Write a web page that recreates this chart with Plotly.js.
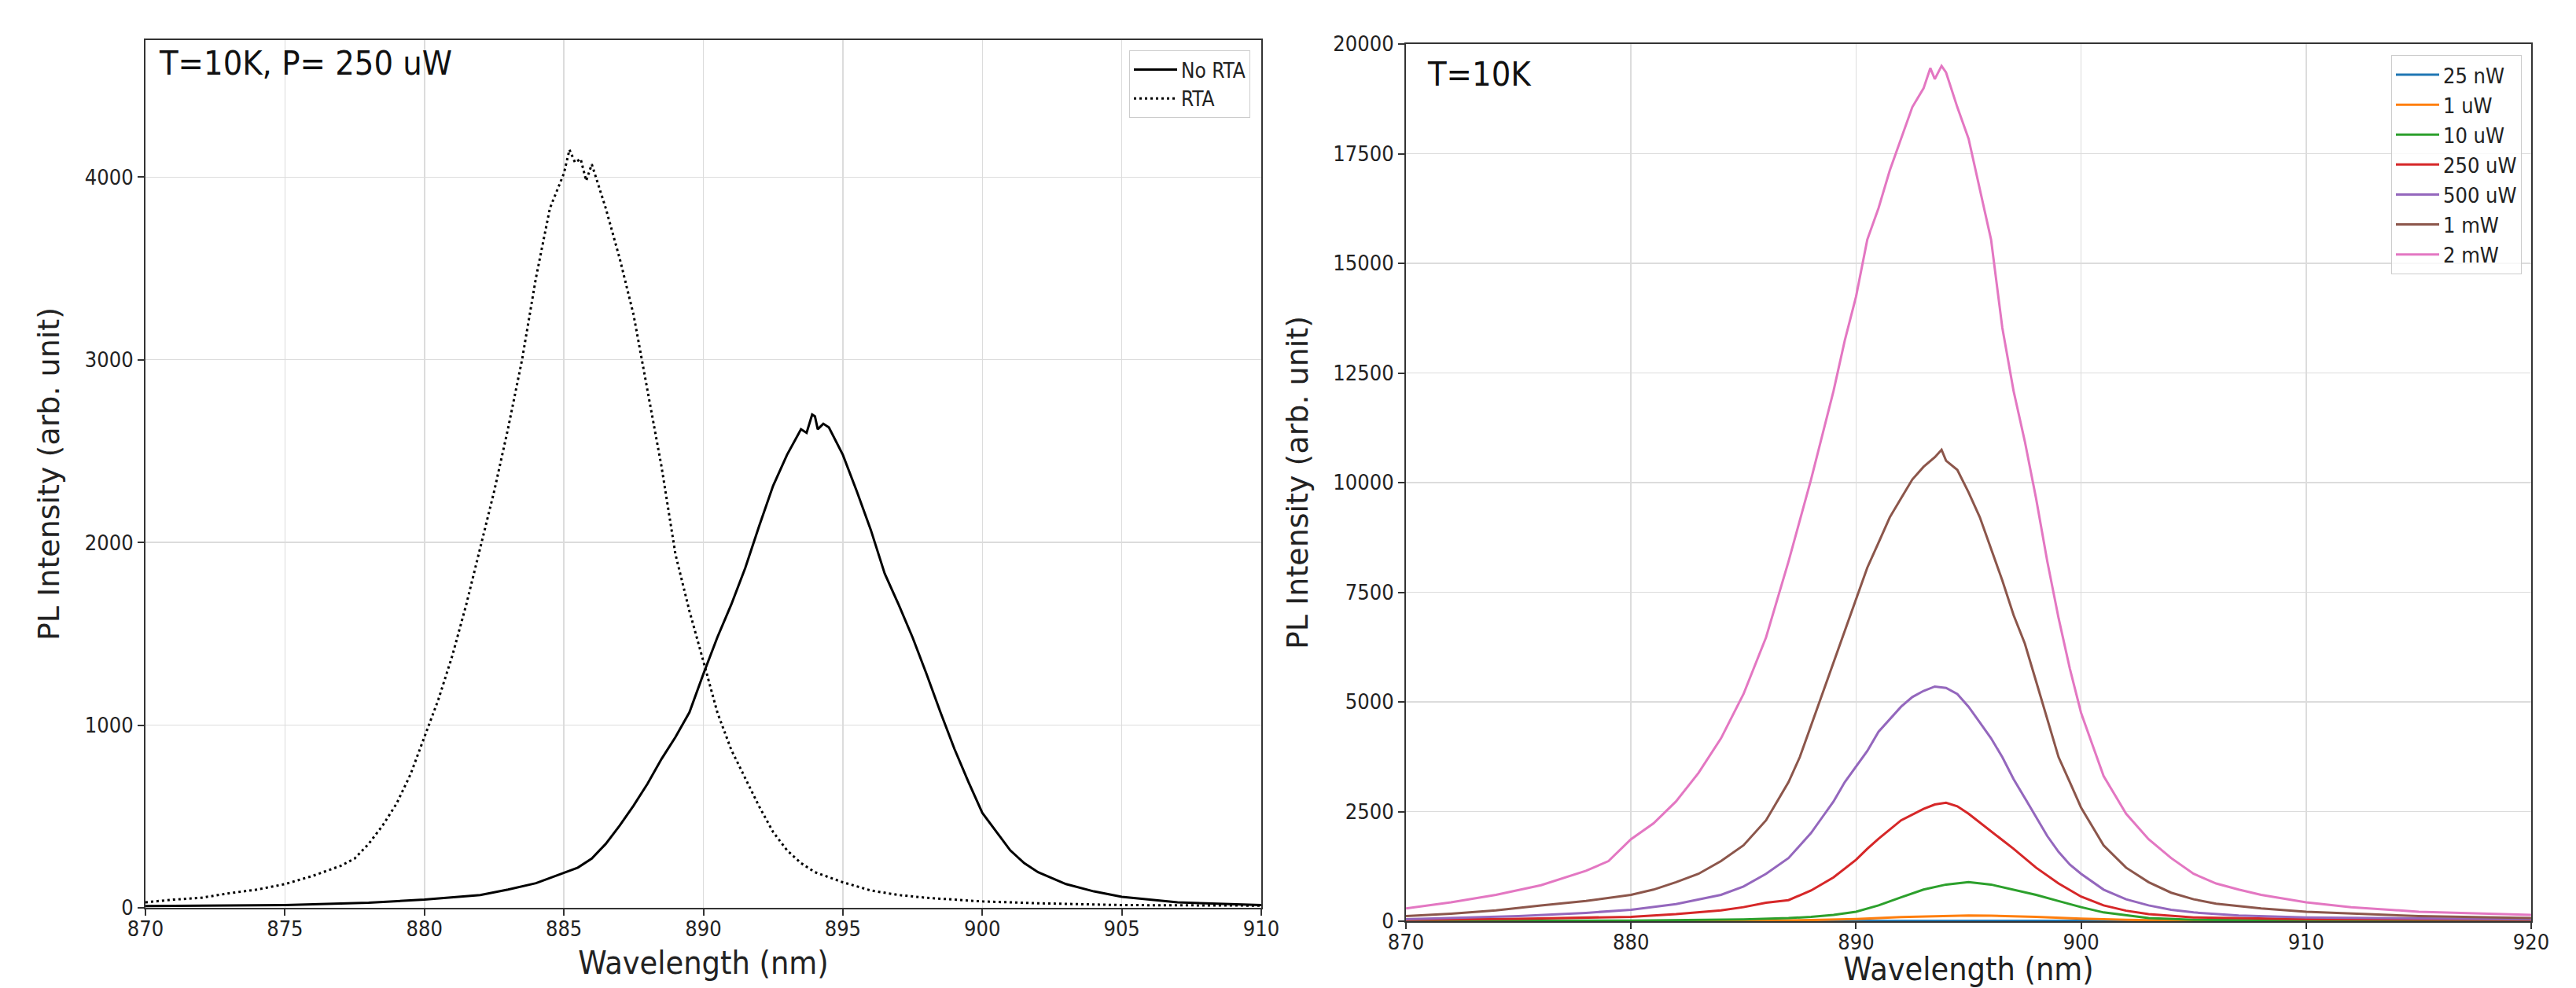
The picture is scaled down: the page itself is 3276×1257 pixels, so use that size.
<!DOCTYPE html>
<html>
<head>
<meta charset="utf-8">
<script src="https://cdn.plot.ly/plotly-3.0.1.min.js"></script>
<style>html,body{margin:0;padding:0;background:#fff;}#chart{width:3276px;height:1257px;}</style>
</head>
<body>
<div id="chart"></div>
<script>
// ---------- Left panel: T=10K, P=250 uW ----------
const wlNoRTA = [870,872,875,878,880,882,883,884,885,885.5,886,886.5,887,887.5,888,888.5,889,889.5,890,890.5,891,891.5,892,892.5,893,893.5,893.7,893.9,894,894.1,894.3,894.5,895,895.5,896,896.5,897,897.5,898,898.5,899,899.5,900,900.5,901,901.5,902,903,904,905,906,907,908,910];
const noRTA   = [10,12,15,28,45,70,100,135,190,220,270,350,450,560,680,815,935,1070,1280,1480,1660,1860,2090,2310,2480,2620,2600,2700,2690,2620,2650,2630,2480,2280,2070,1830,1660,1480,1280,1070,870,690,520,415,315,245,195,130,90,60,45,30,25,15];

const wlRTA = [870,871,872,873,874,875,876,877,877.5,878,878.5,879,879.5,880,880.5,881,881.5,882,882.5,883,883.5,884,884.5,885,885.2,885.4,885.6,885.8,886,886.5,887,887.5,888,888.5,889,889.5,890,890.5,891,891.5,892,892.5,893,893.5,894,895,896,897,898,899,900,902,905,910];
const RTA   = [30,45,55,80,100,130,175,230,270,350,450,570,730,935,1140,1380,1660,1970,2280,2625,3000,3450,3830,4020,4150,4080,4100,3980,4070,3830,3555,3245,2830,2415,1935,1625,1350,1070,865,710,555,415,315,245,195,140,95,70,55,45,35,25,15,12];

// ---------- Right panel: T=10K, power series ----------
const powerLabels = ['25 nW','1 uW','10 uW','250 uW','500 uW','1 mW','2 mW'];
const powerColors = ['#1f77b4','#ff7f0e','#2ca02c','#d62728','#9467bd','#8c564b','#e377c2'];

const wl25nW = [870,885,890,893,895,897,900,905,920];
const p25nW  = [0,3,8,15,18,15,8,3,0];

const wl1uW = [870,880,885,888,890,892,894,895,896,898,900,902,905,910,920];
const p1uW  = [3,5,10,25,50,95,125,130,125,100,60,30,10,5,3];

const wl10uW = [870,880,885,887,888,889,890,891,892,893,894,895,896,897,898,899,900,901,902,903,905,910,920];
const p10uW  = [5,15,40,70,100,145,215,360,545,720,835,890,835,720,600,460,320,200,130,70,30,15,5];

const wl250uW = [870,875,880,882,884,885,886,887,888,889,890,890.5,891,892,893,893.5,894,894.5,895,896,897,898,899,900,901,902,903,905,910,920];
const p250uW  = [30,55,100,160,245,320,420,480,700,1000,1400,1650,1880,2300,2560,2660,2700,2620,2450,2050,1650,1220,860,560,360,240,160,85,45,30];

const wl500uW = [870,875,878,880,882,884,885,886,887,888,888.5,889,889.5,890,890.5,891,891.5,892,892.5,893,893.5,894,894.5,895,895.5,896,896.5,897,897.5,898,898.5,899,899.5,900,901,902,903,904,905,907,910,920];
const p500uW  = [45,115,190,260,390,600,790,1080,1440,2010,2370,2730,3170,3530,3880,4320,4600,4890,5110,5250,5350,5320,5180,4890,4530,4170,3740,3240,2810,2370,1940,1580,1290,1080,720,500,360,260,200,130,85,45];

const wl1mW = [870,872,874,876,878,880,881,882,883,884,885,886,887,887.5,888,888.5,889,889.5,890,890.5,891,891.5,892,892.5,893,893.5,893.8,894,894.5,895,895.5,896,896.5,897,897.5,898,898.5,899,899.5,900,900.5,901,902,903,904,905,906,908,910,915,920];
const p1mW  = [115,170,245,360,460,600,720,890,1080,1370,1730,2300,3170,3740,4460,5180,5900,6620,7340,8060,8630,9210,9640,10070,10360,10580,10750,10500,10290,9780,9210,8490,7770,6980,6330,5470,4600,3740,3170,2590,2160,1730,1220,890,650,500,400,290,215,115,70];

const wl2mW = [870,872,874,876,878,879,880,881,882,883,884,885,886,887,888,888.5,889,889.5,890,890.5,891,891.5,892,892.5,893,893.3,893.5,893.8,894,894.5,895,895.5,896,896.5,897,897.5,898,898.5,899,899.5,900,900.5,901,902,903,904,905,906,907,908,910,912,915,920];
const p2mW  = [290,430,600,820,1150,1370,1870,2230,2730,3380,4170,5180,6470,8200,10070,11080,12090,13240,14240,15540,16260,17120,17840,18560,18990,19450,19200,19500,19350,18560,17840,16690,15540,13530,12090,10940,9640,8200,6910,5760,4750,4030,3310,2450,1870,1440,1080,860,720,600,430,320,215,145];

const rightX = [wl25nW, wl1uW, wl10uW, wl250uW, wl500uW, wl1mW, wl2mW];
const rightY = [p25nW, p1uW, p10uW, p250uW, p500uW, p1mW, p2mW];

// ---------- Ticks / text ----------
const leftXTicks  = [870,875,880,885,890,895,900,905,910];
const leftYTicks  = [0,1000,2000,3000,4000];
const rightXTicks = [870,880,890,900,910,920];
const rightYTicks = [0,2500,5000,7500,10000,12500,15000,17500,20000];

const condensed = '"DejaVu Sans Condensed", "Liberation Sans Narrow", "DejaVu Sans", sans-serif';
const regular = '"DejaVu Sans", sans-serif';

const traces = [
  {x: wlNoRTA, y: noRTA, type: 'scatter', mode: 'lines', name: 'No RTA',
   line: {color: '#000000', width: 3}, xaxis: 'x', yaxis: 'y', legend: 'legend'},
  {x: wlRTA, y: RTA, type: 'scatter', mode: 'lines', name: 'RTA',
   line: {color: '#000000', width: 3, dash: '3px,4px'}, xaxis: 'x', yaxis: 'y', legend: 'legend'}
];
for (let i = 0; i < powerLabels.length; i++) {
  traces.push({x: rightX[i], y: rightY[i], type: 'scatter', mode: 'lines', name: powerLabels[i],
    line: {color: powerColors[i], width: 3}, xaxis: 'x2', yaxis: 'y2', legend: 'legend2'});
}

const axisCommon = {
  showline: true, mirror: true, linecolor: '#333333', linewidth: 2,
  ticks: 'outside', ticklen: 8, tickwidth: 2, tickcolor: '#333333',
  showgrid: true, gridcolor: '#dcdcdc', gridwidth: 1.5,
  zeroline: false, automargin: false,
  tickfont: {family: condensed, size: 27, color: '#222222'},
  tickformat: 'd'
};

const W = 3276, H = 1257;
const xTitleFont = {family: condensed, size: 41, color: '#222222'};
const yTitleFont = {family: regular, size: 38, color: '#222222'};
const layout = {
  width: W, height: H,
  paper_bgcolor: '#ffffff', plot_bgcolor: '#ffffff',
  margin: {l: 0, r: 0, t: 0, b: 0},
  showlegend: true,
  xaxis: Object.assign({}, axisCommon, {
    domain: [185/W, 1604/W], range: [870, 910], tickvals: leftXTicks, anchor: 'y',
    ticklabelstandoff: -6,
    title: {text: 'Wavelength (nm)', font: xTitleFont, standoff: 14}
  }),
  yaxis: Object.assign({}, axisCommon, {
    domain: [(H-1155)/H, (H-51)/H], range: [0, 4750], tickvals: leftYTicks, anchor: 'x',
    title: {text: 'PL Intensity (arb. unit)', font: yTitleFont, standoff: 20}
  }),
  xaxis2: Object.assign({}, axisCommon, {
    domain: [1788/W, 3219/W], range: [870, 920], tickvals: rightXTicks, anchor: 'y2',
    ticklabelstandoff: -6,
    title: {text: 'Wavelength (nm)', font: xTitleFont, standoff: 14}
  }),
  yaxis2: Object.assign({}, axisCommon, {
    domain: [(H-1172)/H, (H-56)/H], range: [0, 20000], tickvals: rightYTicks, anchor: 'x2',
    title: {text: 'PL Intensity (arb. unit)', font: yTitleFont, standoff: 20}
  }),
  legend: {
    x: 1590/W, xanchor: 'right', y: 1 - 64/H, yanchor: 'top', itemwidth: 55,
    bgcolor: 'rgba(255,255,255,0.8)', bordercolor: '#cccccc', borderwidth: 1,
    font: {family: condensed, size: 26, color: '#222222'}, tracegroupgap: 0
  },
  legend2: {
    x: 3207/W, xanchor: 'right', y: 1 - 70/H, yanchor: 'top', itemwidth: 55,
    bgcolor: 'rgba(255,255,255,0.8)', bordercolor: '#cccccc', borderwidth: 1,
    font: {family: condensed, size: 27, color: '#222222'}, tracegroupgap: 0
  },
  annotations: [
    {text: 'T=10K, P= 250 uW', xref: 'paper', yref: 'paper', x: 200/W, y: 1 - 80/H,
     xanchor: 'left', yanchor: 'middle', showarrow: false,
     font: {family: condensed, size: 43, color: '#111111'}},
    {text: 'T=10K', xref: 'paper', yref: 'paper', x: 1813/W, y: 1 - 94/H,
     xanchor: 'left', yanchor: 'middle', showarrow: false,
     font: {family: condensed, size: 43, color: '#111111'}}
  ]
};

Plotly.newPlot('chart', traces, layout, {displayModeBar: false, staticPlot: true});
</script>
</body>
</html>
